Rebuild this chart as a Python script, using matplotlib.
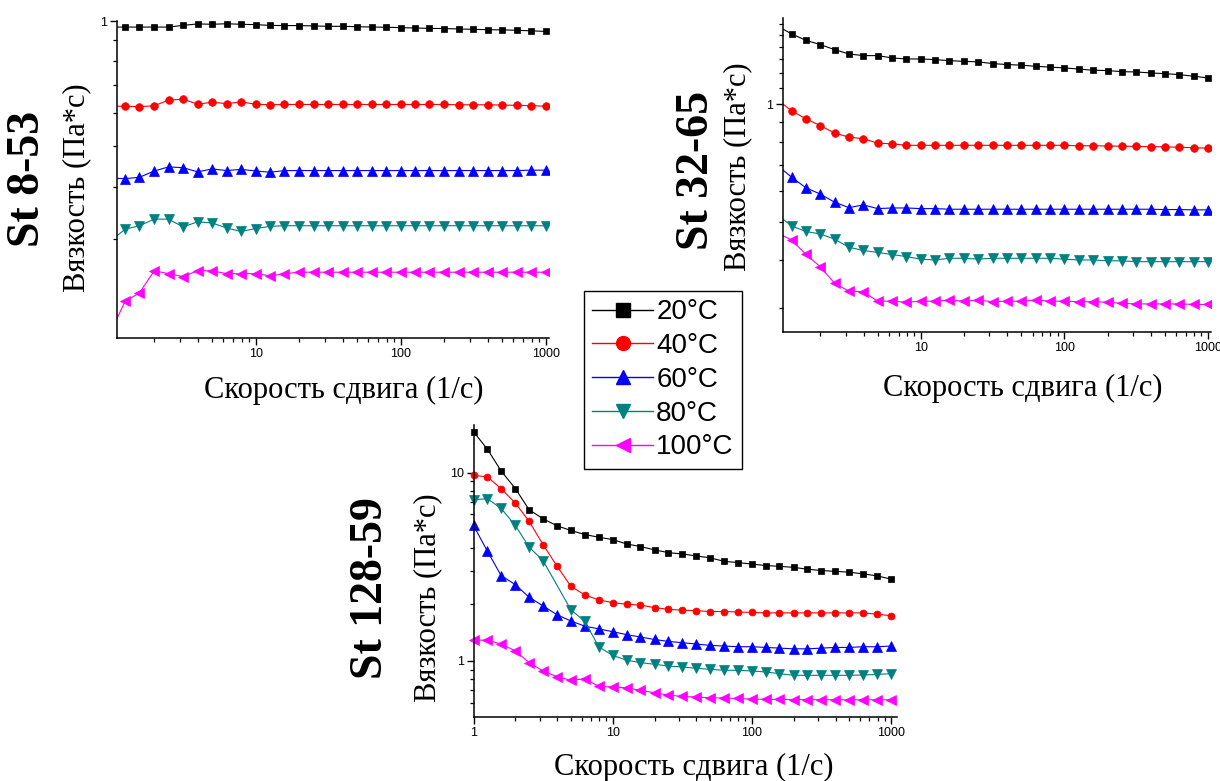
import numpy as np
import matplotlib
matplotlib.use("Agg")
import matplotlib.pyplot as plt
from matplotlib import ticker
from matplotlib.lines import Line2D

plt.rcParams['font.family'] = ['Liberation Sans', 'DejaVu Sans']

# shear rate, 1/s (10 points per decade)
shear = [1, 1.26, 1.58, 2.0, 2.51, 3.16, 3.98, 5.01, 6.31, 7.94,
         10, 12.6, 15.8, 20, 25.1, 31.6, 39.8, 50.1, 63.1, 79.4,
         100, 126, 158, 200, 251, 316, 398, 501, 631, 794, 1000]

temps = ["20°C", "40°C", "60°C", "80°C", "100°C"]

# St 8-53
st853_20 = [0.967, 0.967, 0.967, 0.967, 0.967, 0.976, 0.984, 0.982, 0.985, 0.982, 0.980,
            0.976, 0.975, 0.975, 0.973, 0.971, 0.971, 0.969, 0.967, 0.966, 0.964,
            0.962, 0.960, 0.959, 0.957, 0.955, 0.953, 0.952, 0.950, 0.947, 0.944]
st853_40 = [0.624, 0.624, 0.622, 0.626, 0.645, 0.649, 0.631, 0.638, 0.633, 0.639, 0.631,
            0.629, 0.630, 0.630, 0.630, 0.630, 0.630, 0.630, 0.630, 0.630, 0.630,
            0.630, 0.630, 0.630, 0.629, 0.629, 0.629, 0.628, 0.627, 0.626, 0.624]
st853_60 = [0.419, 0.418, 0.421, 0.436, 0.446, 0.444, 0.434, 0.441, 0.437, 0.440, 0.436,
            0.433, 0.437, 0.437, 0.437, 0.437, 0.437, 0.437, 0.437, 0.437, 0.437,
            0.437, 0.437, 0.437, 0.437, 0.437, 0.437, 0.437, 0.437, 0.438, 0.438]
st853_80 = [0.296, 0.316, 0.322, 0.334, 0.334, 0.320, 0.329, 0.327, 0.318, 0.312, 0.317,
            0.321, 0.322, 0.322, 0.322, 0.322, 0.322, 0.322, 0.322, 0.322, 0.322,
            0.322, 0.322, 0.322, 0.322, 0.322, 0.322, 0.322, 0.322, 0.322, 0.322]
st853_100 = [0.179, 0.212, 0.222, 0.251, 0.247, 0.243, 0.251, 0.251, 0.247, 0.247, 0.247,
             0.244, 0.247, 0.249, 0.249, 0.249, 0.249, 0.249, 0.249, 0.249, 0.249,
             0.249, 0.249, 0.249, 0.249, 0.249, 0.249, 0.249, 0.249, 0.249, 0.249]

# St 32-65
st3265_20 = [1.585, 1.512, 1.456, 1.419, 1.378, 1.343, 1.330, 1.330, 1.312, 1.304, 1.304,
             1.299, 1.291, 1.286, 1.282, 1.269, 1.262, 1.257, 1.249, 1.243, 1.237,
             1.229, 1.220, 1.218, 1.210, 1.208, 1.201, 1.196, 1.189, 1.178, 1.166]
st3265_40 = [1.027, 0.961, 0.917, 0.880, 0.843, 0.823, 0.815, 0.794, 0.791, 0.784, 0.784,
             0.784, 0.784, 0.784, 0.784, 0.784, 0.784, 0.784, 0.784, 0.784, 0.784,
             0.782, 0.782, 0.781, 0.780, 0.779, 0.778, 0.777, 0.775, 0.773, 0.771]
st3265_60 = [0.697, 0.650, 0.611, 0.588, 0.561, 0.543, 0.552, 0.540, 0.542, 0.542, 0.540,
             0.540, 0.538, 0.538, 0.538, 0.538, 0.538, 0.538, 0.538, 0.538, 0.538,
             0.538, 0.538, 0.538, 0.538, 0.538, 0.538, 0.537, 0.537, 0.536, 0.536]
st3265_80 = [0.521, 0.488, 0.472, 0.465, 0.451, 0.430, 0.422, 0.417, 0.412, 0.407, 0.401,
             0.399, 0.403, 0.403, 0.401, 0.403, 0.403, 0.403, 0.403, 0.403, 0.401,
             0.399, 0.399, 0.397, 0.397, 0.395, 0.395, 0.395, 0.395, 0.395, 0.395]
st3265_100 = [0.468, 0.449, 0.413, 0.383, 0.348, 0.332, 0.331, 0.313, 0.313, 0.311, 0.313,
              0.313, 0.315, 0.313, 0.315, 0.312, 0.313, 0.313, 0.315, 0.313, 0.313,
              0.312, 0.312, 0.311, 0.309, 0.308, 0.308, 0.308, 0.308, 0.307, 0.307]

# St 128-59 (80°C has no point at 3.98)
st12859_20 = [16.5, 13.3, 10.2, 8.22, 6.35, 5.69, 5.22, 4.93, 4.69, 4.54, 4.41,
              4.18, 4.05, 3.89, 3.76, 3.70, 3.61, 3.53, 3.38, 3.33, 3.27,
              3.21, 3.18, 3.14, 3.07, 3.02, 2.99, 2.96, 2.90, 2.83, 2.72]
st12859_40 = [9.68, 9.49, 8.22, 6.89, 5.51, 4.15, 3.19, 2.49, 2.24, 2.11, 2.04,
              2.00, 1.98, 1.92, 1.88, 1.86, 1.85, 1.83, 1.83, 1.82, 1.81,
              1.80, 1.80, 1.80, 1.80, 1.80, 1.80, 1.80, 1.80, 1.77, 1.74]
st12859_60 = [5.24, 3.82, 2.84, 2.54, 2.18, 1.96, 1.76, 1.63, 1.53, 1.48, 1.43,
              1.38, 1.34, 1.30, 1.27, 1.25, 1.23, 1.21, 1.20, 1.19, 1.19,
              1.18, 1.17, 1.16, 1.16, 1.17, 1.18, 1.18, 1.19, 1.19, 1.20]
st12859_80 = [7.18, 7.27, 6.45, 5.24, 4.02, 3.41, np.nan, 1.87, 1.62, 1.19, 1.07,
              1.01, 0.98, 0.96, 0.94, 0.929, 0.914, 0.903, 0.892, 0.892, 0.885,
              0.874, 0.856, 0.839, 0.839, 0.839, 0.839, 0.839, 0.842, 0.849, 0.856]
st12859_100 = [1.29, 1.29, 1.23, 1.13, 0.98, 0.885, 0.825, 0.789, 0.805, 0.733, 0.727,
               0.721, 0.698, 0.678, 0.659, 0.648, 0.643, 0.638, 0.635, 0.632, 0.627,
               0.626, 0.625, 0.624, 0.623, 0.623, 0.622, 0.622, 0.622, 0.622, 0.622]

colors = ["#000000", "#ff0000", "#0000ff", "#008080", "#ff00ff"]
markers = ["s", "o", "^", "v", "<"]

W, H = 1220, 781
fig = plt.figure(figsize=(W / 100, H / 100), dpi=100)


def box(l, t, r, b):
    return [l / W, 1 - b / H, (r - l) / W, (b - t) / H]


def label(x, y, s, **kw):
    fig.text(x / W, 1 - y / H, s, ha='center', va='center', **kw)


def panel(rect, series, xlim, ylim, yminor, msizes, clip=True):
    ax = fig.add_axes(rect)
    x = np.array(shear)
    for vals, c, m, ms in zip(series, colors, markers, msizes):
        y = np.array(vals, dtype=float)
        ok = ~np.isnan(y)
        ax.plot(x[ok], y[ok], color=c, lw=0.8, marker=m, ms=ms,
                mec=c, mew=0.5, clip_on=clip)
    ax.set_xscale('log')
    ax.set_yscale('log')
    ax.set_xlim(*xlim)
    ax.set_ylim(*ylim)
    for s in ['top', 'right']:
        ax.spines[s].set_visible(False)
    for s in ['left', 'bottom']:
        ax.spines[s].set_linewidth(1.1)
    fmt = ticker.FuncFormatter(lambda v, p: f"{v:g}")
    ax.xaxis.set_major_locator(ticker.LogLocator(base=10, numticks=10))
    ax.xaxis.set_minor_locator(ticker.LogLocator(base=10, subs=np.arange(2, 10), numticks=20))
    ax.xaxis.set_major_formatter(fmt)
    ax.xaxis.set_minor_formatter(ticker.NullFormatter())
    ax.yaxis.set_major_locator(ticker.LogLocator(base=10, numticks=10))
    ax.yaxis.set_minor_locator(ticker.FixedLocator(yminor))
    ax.yaxis.set_major_formatter(fmt)
    ax.yaxis.set_minor_formatter(ticker.NullFormatter())
    ax.tick_params(which='major', direction='out', length=5, width=1, labelsize=9, pad=2)
    ax.tick_params(which='minor', direction='out', length=2.8, width=0.9)
    return ax


ms_top = [5, 5.5, 6.5, 6.5, 6.5]
ms_bot = [4.5, 5, 6.5, 6.5, 6.5]

ax1 = panel(box(117, 21, 549, 338),
            [st853_20, st853_40, st853_60, st853_80, st853_100],
            (1.107, 1055), (0.173, 1.0),
            [0.3, 0.4, 0.5, 0.6, 0.7, 0.8, 0.9], ms_top)
ax2 = panel(box(782.5, 18, 1211, 332),
            [st3265_20, st3265_40, st3265_60, st3265_80, st3265_100],
            (1.09, 1049), (0.261, 1.66),
            [0.3, 0.4, 0.5, 0.6, 0.7, 0.8, 0.9, 1.1, 1.2, 1.3, 1.4, 1.5, 1.6], ms_top)
ax3 = panel(box(473.5, 425, 897, 717),
            [st12859_20, st12859_40, st12859_60, st12859_80, st12859_100],
            (1.0, 1104), (0.504, 17.9),
            [0.6, 0.7, 0.8, 0.9, 2, 3, 4, 5, 6, 7, 8, 9], ms_bot, clip=False)

serif = dict(family='Liberation Serif', size=22)
bold = dict(family='Liberation Serif', size=33, weight='bold')
ylab = "Вязкость (Па*с)"
xlab = "Скорость сдвига (1/с)"

label(28, 179, "St 8-53", rotation=90, **bold)
label(77, 188, ylab, rotation=90, **serif)
label(344, 390, xlab, **serif)

label(697, 170, "St 32-65", rotation=90, **bold)
label(738, 167, ylab, rotation=90, **serif)
label(1023, 388, xlab, **serif)

label(371, 588, "St 128-59", rotation=90, **bold)
label(428, 598, ylab, rotation=90, **serif)
label(694, 767, xlab, **serif)

handles = [Line2D([], [], color=c, marker=m, ms=10, lw=1, mec=c)
           for c, m in zip(colors, markers)]
leg = fig.legend(handles, temps, loc='upper left',
                 bbox_to_anchor=(584 / W, 1 - 291 / H),
                 frameon=True, fancybox=False, edgecolor='black',
                 prop=dict(family='Liberation Sans', size=20),
                 handlelength=2.2, handletextpad=0.1, labelspacing=0.28,
                 borderpad=0.3, borderaxespad=0)
leg.get_frame().set_linewidth(1.0)
leg.get_frame().set_alpha(None)

fig.savefig("out.png", dpi=100)
